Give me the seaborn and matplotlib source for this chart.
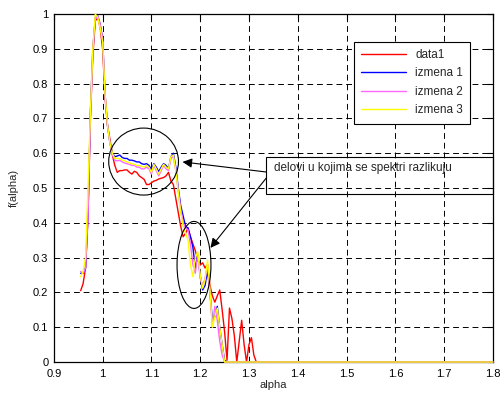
import numpy as np
import pandas as pd
import matplotlib
matplotlib.use("Agg")
import matplotlib.pyplot as plt
from matplotlib.patches import Ellipse, Rectangle
from matplotlib.ticker import FuncFormatter
import seaborn as sns

# shared alpha grid (step 0.005 up to 1.33, then the flat tail to 1.8)
alpha = [0.955, 0.96, 0.965, 0.97, 0.975, 0.98, 0.985, 0.99, 0.995, 1.0,
         1.005, 1.01, 1.015, 1.02, 1.025, 1.03, 1.035, 1.04, 1.045, 1.05,
         1.055, 1.06, 1.065, 1.07, 1.075, 1.08, 1.085, 1.09, 1.095, 1.1,
         1.105, 1.11, 1.115, 1.12, 1.125, 1.13, 1.135, 1.14, 1.145, 1.15,
         1.155, 1.16, 1.165, 1.17, 1.175, 1.18, 1.185, 1.19, 1.195, 1.2,
         1.205, 1.21, 1.215, 1.22, 1.225, 1.23, 1.235, 1.24, 1.245, 1.25,
         1.255, 1.26, 1.265, 1.27, 1.275, 1.28, 1.285, 1.29, 1.295, 1.3,
         1.305, 1.31, 1.315, 1.32, 1.325, 1.33, 1.8]

data1 = [0.205, 0.225, 0.27, 0.42, 0.70, 0.88, 0.98, 0.99, 0.96, 0.90,
         0.76, 0.68, 0.64, 0.595, 0.565, 0.545, 0.55, 0.55, 0.552, 0.552,
         0.545, 0.54, 0.548, 0.545, 0.535, 0.53, 0.525, 0.51, 0.51, 0.515,
         0.52, 0.522, 0.526, 0.528, 0.53, 0.535, 0.545, 0.52, 0.51, 0.47,
         0.43, 0.39, 0.36, 0.37, 0.385, 0.36, 0.34, 0.32, 0.293, 0.279,
         0.285, 0.27, 0.28, 0.22, 0.19, 0.172, 0.19, 0.207, 0.15, 0.087,
         0.005, 0.155, 0.125, 0.075, 0.0, 0.06, 0.12, 0.05, 0.0, 0.05,
         0.07, 0.02, 0.0, 0.0, 0.0, 0.0, 0.0]

izmena1 = [0.255, 0.255, 0.27, 0.42, 0.72, 0.90, 0.99, 0.995, 0.97, 0.93,
           0.77, 0.68, 0.63, 0.60, 0.59, 0.592, 0.595, 0.588, 0.585, 0.585,
           0.58, 0.58, 0.578, 0.575, 0.575, 0.57, 0.568, 0.57, 0.565, 0.553,
           0.57, 0.56, 0.547, 0.56, 0.57, 0.565, 0.555, 0.59, 0.60, 0.56,
           0.50, 0.45, 0.42, 0.39, 0.385, 0.36, 0.33, 0.27, 0.31, 0.25,
           0.207, 0.22, 0.264, 0.20, 0.12, 0.13, 0.16, 0.10, 0.05, 0.005,
           0.0, 0.0, 0.0, 0.0, 0.0, 0.0, 0.0, 0.0, 0.0, 0.0,
           0.0, 0.0, 0.0, 0.0, 0.0, 0.0, 0.0]

izmena2 = [0.26, 0.255, 0.27, 0.41, 0.70, 0.90, 0.985, 0.995, 0.97, 0.93,
           0.77, 0.68, 0.63, 0.595, 0.58, 0.578, 0.58, 0.575, 0.572, 0.57,
           0.568, 0.565, 0.565, 0.56, 0.56, 0.555, 0.555, 0.56, 0.555, 0.54,
           0.565, 0.55, 0.535, 0.55, 0.565, 0.555, 0.55, 0.585, 0.59, 0.55,
           0.49, 0.44, 0.40, 0.385, 0.38, 0.34, 0.28, 0.255, 0.31, 0.24,
           0.22, 0.24, 0.28, 0.20, 0.10, 0.16, 0.12, 0.06, 0.02, 0.0,
           0.0, 0.0, 0.0, 0.0, 0.0, 0.0, 0.0, 0.0, 0.0, 0.0,
           0.0, 0.0, 0.0, 0.0, 0.0, 0.0, 0.0]

izmena3 = [0.245, 0.26, 0.30, 0.50, 0.72, 0.90, 1.0, 0.99, 0.96, 0.92,
           0.77, 0.68, 0.63, 0.60, 0.585, 0.585, 0.585, 0.58, 0.578, 0.575,
           0.572, 0.57, 0.568, 0.565, 0.565, 0.562, 0.56, 0.565, 0.56, 0.545,
           0.568, 0.555, 0.54, 0.555, 0.568, 0.56, 0.555, 0.59, 0.595, 0.55,
           0.49, 0.43, 0.39, 0.37, 0.35, 0.28, 0.245, 0.30, 0.317, 0.25,
           0.212, 0.236, 0.293, 0.207, 0.10, 0.13, 0.155, 0.10, 0.05, 0.0,
           0.0, 0.0, 0.0, 0.0, 0.0, 0.0, 0.0, 0.0, 0.0, 0.0,
           0.0, 0.0, 0.0, 0.0, 0.0, 0.0, 0.0]

series_names = ['data1', 'izmena 1', 'izmena 2', 'izmena 3']
colors = ['#ff0000', '#0000ff', '#ff66ff', '#ffff00']

frames = []
for name, vals in zip(series_names, [data1, izmena1, izmena2, izmena3]):
    frames.append(pd.DataFrame({'alpha': alpha, 'f': vals, 'serija': name}))
df = pd.concat(frames, ignore_index=True)

sns.set_theme(style='white')
plt.rcParams['font.family'] = ['Liberation Sans', 'DejaVu Sans']

fig = plt.figure(figsize=(5.03, 3.95), dpi=100)
ax = fig.add_axes([0.107, 0.0835, 0.873, 0.881])

sns.lineplot(data=df, x='alpha', y='f', hue='serija', palette=colors,
             hue_order=series_names, sort=False, estimator=None,
             linewidth=1.0, ax=ax)
for ln in ax.lines:
    ln.set_clip_on(False)
    ln.set_zorder(3)

ax.set_xlim(0.9, 1.8)
ax.set_ylim(0, 1)
ax.set_xticks(np.arange(0.9, 1.81, 0.1))
ax.set_yticks(np.arange(0, 1.01, 0.1))
fmt = FuncFormatter(lambda v, p: f'{v:.1f}'.rstrip('0').rstrip('.'))
ax.xaxis.set_major_formatter(fmt)
ax.yaxis.set_major_formatter(fmt)
ax.grid(True, color='black', linestyle=(0, (6, 4)), linewidth=0.7)
ax.tick_params(direction='in', top=True, right=True, length=4, width=0.8,
               labelsize=8, colors='black')
ax.tick_params(axis='x', pad=5)
ax.tick_params(axis='y', pad=4)
for sp in ax.spines.values():
    sp.set_color('black')
    sp.set_linewidth(0.9)
    sp.set_zorder(2.5)
ax.set_xlabel('alpha', fontsize=8, labelpad=1)
ax.set_ylabel('f(alpha)', fontsize=8, labelpad=10)

leg = ax.legend(loc='upper right', bbox_to_anchor=(0.948, 0.92), borderaxespad=0,
                fontsize=8.5, frameon=True, fancybox=False, edgecolor='black',
                framealpha=1, handlelength=3.8, labelspacing=0.55, borderpad=0.6)
leg.get_frame().set_linewidth(0.8)
leg.set_zorder(5)

# annotations: circled regions, text box, arrows
ax.add_patch(Ellipse((1.084, 0.576), 0.143, 0.1925, fill=False, edgecolor='black', lw=0.8, zorder=4))
ax.add_patch(Ellipse((1.1873, 0.279), 0.0695, 0.25, fill=False, edgecolor='black', lw=0.8, zorder=4))
ax.add_patch(Rectangle((1.3356, 0.483), 0.464, 0.106, fill=False, edgecolor='black', lw=0.8,
                       clip_on=False, zorder=4))
ax.text(1.352, 0.557, 'delovi u kojima se spektri razlikuju', fontsize=8.5, va='center', ha='left')
arrow = dict(arrowstyle='-|>', color='black', lw=0.8, mutation_scale=14, shrinkA=0, shrinkB=0)
ax.annotate('', xy=(1.1638, 0.575), xytext=(1.3356, 0.546), arrowprops=arrow)
ax.annotate('', xy=(1.221, 0.328), xytext=(1.3356, 0.529), arrowprops=arrow)

fig.savefig('out.png', dpi=100)
